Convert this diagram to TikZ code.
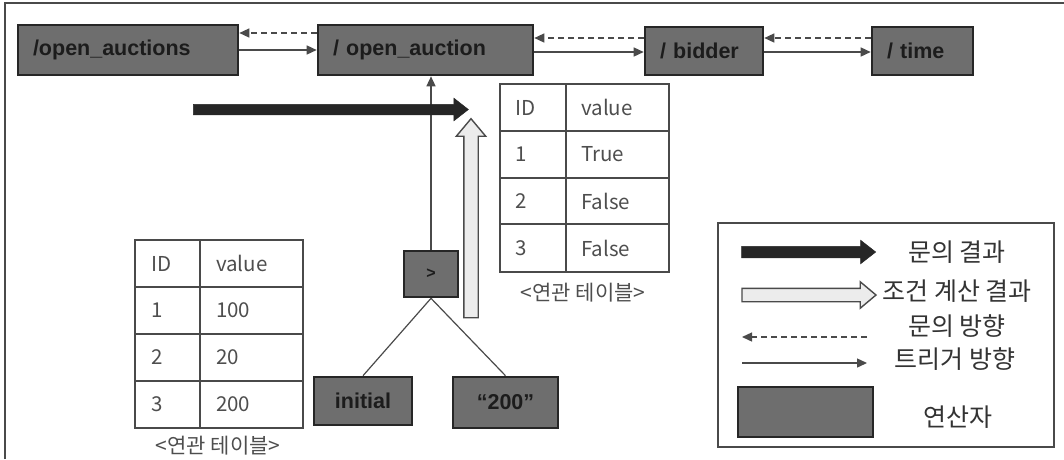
\documentclass[tikz,border=0pt]{standalone}
\usepackage{fontspec}
\setmainfont{Liberation Sans}
\newfontfamily\kr{Noto Sans CJK KR}
\usetikzlibrary{arrows.meta,shapes.arrows}
\definecolor{boxfill}{HTML}{6E6E6E}
\definecolor{boxline}{HTML}{262626}
\definecolor{boxtext}{HTML}{1C1C1C}
\definecolor{linecol}{HTML}{4A4A4A}
\definecolor{tabtext}{HTML}{4E4E4E}
\definecolor{lightfill}{HTML}{ECECEC}
\tikzset{
  opbox/.style={draw=boxline, fill=boxfill, line width=2.6pt, inner xsep=15pt, inner ysep=0pt,
    text=boxtext, font=\fontsize{21.5}{23}\selectfont\bfseries},
  trig/.style={draw=linecol, line width=1.4pt, -{Triangle[length=10pt,width=9pt]}},
  query/.style={draw=linecol, line width=1.4pt, dash pattern=on 6pt off 4pt, -{Triangle[length=10pt,width=9pt]}},
  plainline/.style={draw=linecol, line width=1.2pt},
  tbl/.style={draw=linecol, line width=1.6pt},
  celltext/.style={anchor=west, inner sep=0pt, text=tabtext, font=\kr\fontsize{20.5}{22}\selectfont},
  caption/.style={inner sep=0pt, text=tabtext, font=\kr\fontsize{21}{23}\selectfont},
  legtext/.style={inner sep=0pt, text=black!80, font=\kr\fontsize{25}{27}\selectfont},
  blackarrow/.style={single arrow, draw=boxline, fill=boxline, inner xsep=0pt, line width=0.5pt},
  lightarrow/.style={single arrow, draw=linecol, fill=lightfill, inner xsep=0pt, line width=1.4pt},
}
\begin{document}
\begin{tikzpicture}[x=1pt,y=-1pt]
\useasboundingbox (0,0) rectangle (1064,459);
% outer frame (cropped)
\draw[draw=linecol, line width=2pt] (5,459) -- (5,3) -- (1064,3);

% top operator boxes
\node[opbox, minimum width=220pt, minimum height=50pt, text width=190pt, align=left] (oas) at (128,50) {/open\_auctions};
\node[opbox, minimum width=215pt, minimum height=50pt, text width=185pt, align=left] (oa) at (425.5,50) {/ open\_auction};
\node[opbox, minimum width=118pt, minimum height=48pt, text width=88pt, align=left] (bid) at (704,51) {/ bidder};
\node[opbox, minimum width=101pt, minimum height=48pt, text width=71pt, align=left] (tm) at (922.5,51) {/ time};

% top connectors
\draw[query] ([yshift=17pt]oa.west) -- ([yshift=17pt]oas.east);
\draw[trig] (oas.east) -- (oa.west);
\draw[query] ([yshift=13pt]bid.west) -- ([yshift=13pt]bid.west -| oa.east);
\draw[trig] ([yshift=-1pt]bid.west -| oa.east) -- ([yshift=-1pt]bid.west);
\draw[query] ([yshift=13pt]tm.west) -- ([yshift=13pt]tm.west -| bid.east);
\draw[trig] ([yshift=-1pt]tm.west -| bid.east) -- ([yshift=-1pt]tm.west);

% condition tree
\node[opbox, inner xsep=0pt, minimum width=54pt, minimum height=46pt, font=\fontsize{16}{18}\selectfont\bfseries] (gt) at (431,274) {>};
\node[opbox, inner xsep=0pt, minimum width=98pt, minimum height=48pt] (ini) at (363,401) {initial};
\node[opbox, inner xsep=0pt, minimum width=105pt, minimum height=51pt] (two) at (505.5,402.5) {“200”};
\draw[trig] (gt.north) -- (gt.north |- oa.south);
\draw[plainline] (gt.south) -- (ini.north);
\draw[plainline] (gt.south) -- (two.north);

% big arrows
\node[blackarrow, inner ysep=5pt, minimum height=275pt, single arrow head extend=6pt, single arrow tip angle=76] (qres) at (327.5,109.5) {};
\node[lightarrow, rotate=90, inner ysep=6.5pt, minimum height=199pt, single arrow head extend=7.5pt, single arrow tip angle=80] (cres) at (471,222.5) {};

% left table
\draw[tbl] (135,240) rectangle (303,428);
\draw[tbl] (135,287) -- (303,287) (135,334) -- (303,334) (135,381) -- (303,381) (200,240) -- (200,428);
\node[celltext] (l0a) at (151,263.5) {ID};
\node[celltext] (l0b) at (216,263.5) {value};
\node[celltext] (l1a) at (151,310.5) {1};
\node[celltext] (l1b) at (216,310.5) {100};
\node[celltext] (l2a) at (151,357.5) {2};
\node[celltext] (l2b) at (216,357.5) {20};
\node[celltext] (l3a) at (151,404.5) {3};
\node[celltext] (l3b) at (216,404.5) {200};
\node[caption] (lcap) at (218,446) {<연관 테이블>};

% right table
\draw[tbl] (500,84) rectangle (669,272);
\draw[tbl] (500,131) -- (669,131) (500,178) -- (669,178) (500,224) -- (669,224) (566,84) -- (566,272);
\node[celltext] (r0a) at (515,107.5) {ID};
\node[celltext] (r0b) at (581,107.5) {value};
\node[celltext] (r1a) at (515,154.5) {1};
\node[celltext] (r1b) at (581,154.5) {True};
\node[celltext] (r2a) at (515,201) {2};
\node[celltext] (r2b) at (581,201) {False};
\node[celltext] (r3a) at (515,248) {3};
\node[celltext] (r3b) at (581,248) {False};
\node[caption] (rcap) at (583,293) {<연관 테이블>};

% legend
\draw[draw=linecol, line width=1.5pt] (718,223) rectangle (1054,447);
\node[blackarrow, inner ysep=5.5pt, minimum height=134pt, single arrow head extend=6pt, single arrow tip angle=76] (lg1) at (805,252) {};
\node[lightarrow, inner ysep=6pt, minimum height=134pt, single arrow head extend=6.5pt, single arrow tip angle=80] (lg2) at (805,295) {};
\coordinate (ld1) at (867,337);
\coordinate (ld2) at (742,337);
\draw[query] (ld1) -- (ld2);
\coordinate (ls1) at (742,363);
\coordinate (ls2) at (867,363);
\draw[trig] (ls1) -- (ls2);
\node[opbox, minimum width=135pt, minimum height=50pt] (lg5) at (805.5,412) {};
\node[legtext] (lt1) at (957,252) {문의 결과};
\node[legtext] (lt2) at (957,291) {조건 계산 결과};
\node[legtext] (lt3) at (957,326) {문의 방향};
\node[legtext] (lt4) at (955,359) {트리거 방향};
\node[legtext] (lt5) at (958,417) {연산자};
\end{tikzpicture}
\end{document}
